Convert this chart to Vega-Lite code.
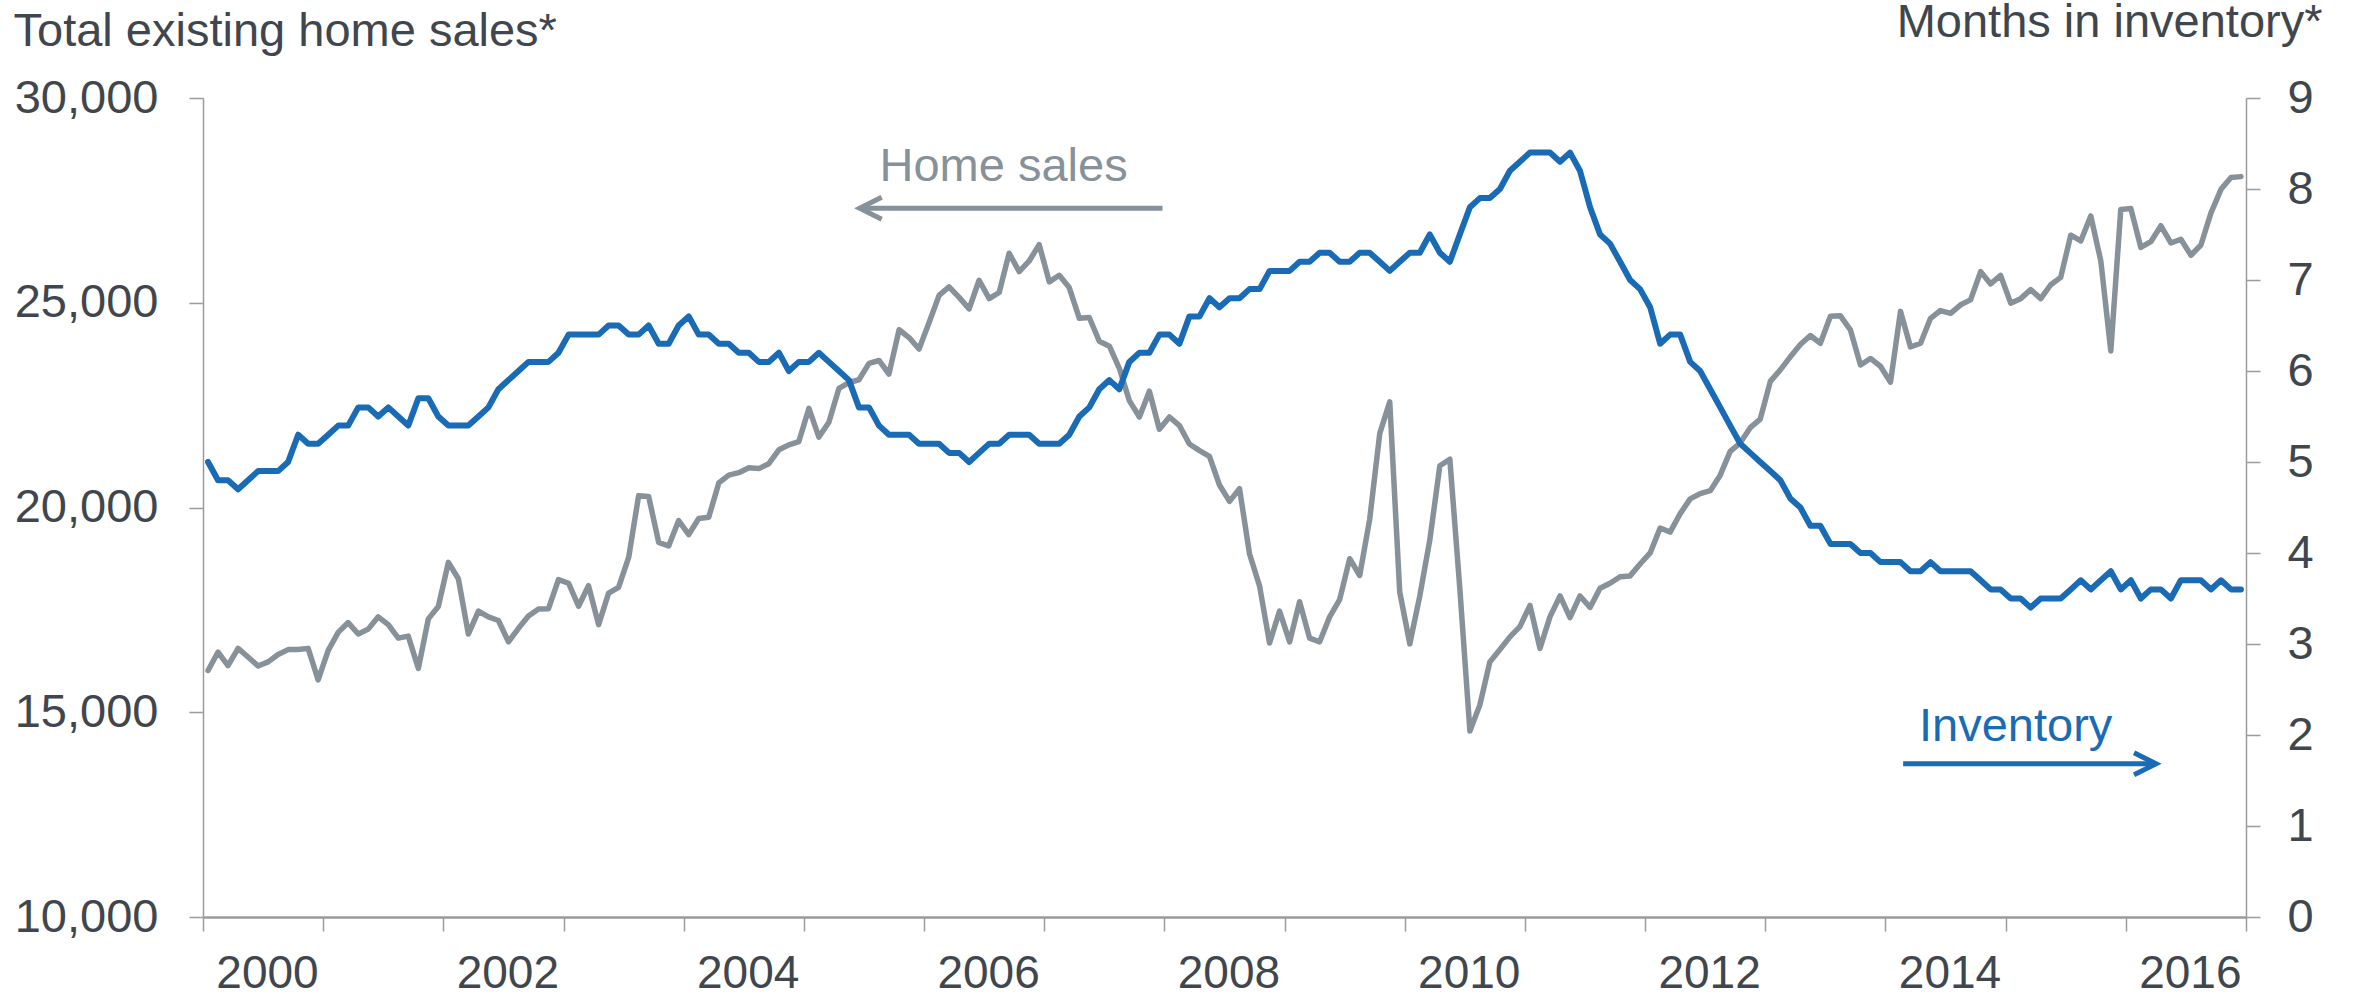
{
  "$schema": "https://vega.github.io/schema/vega-lite/v6.json",
  "width": 2043,
  "height": 819,
  "autosize": {"type": "none"},
  "padding": {"left": 203, "top": 98, "right": 108, "bottom": 79},
  "background": "white",
  "config": {
    "font": "Liberation Sans",
    "view": {"stroke": null},
    "axis": {
      "labelFont": "Liberation Sans",
      "labelFontSize": 47,
      "labelColor": "#3f464d",
      "titleFont": "Liberation Sans",
      "titleFontSize": 47,
      "titleFontWeight": "normal",
      "titleColor": "#3f464d",
      "domainColor": "#9b9b9b",
      "tickColor": "#9b9b9b",
      "grid": false,
      "tickSize": 14,
      "tickWidth": 1.5,
      "domainWidth": 1.5
    }
  },
  "datasets": {
    "series": [
      {"t":2000.042,"s":16020,"i":5.0},{"t":2000.125,"s":16470,"i":4.8},{"t":2000.208,"s":16140,"i":4.8},{"t":2000.292,"s":16560,"i":4.7},
      {"t":2000.375,"s":16350,"i":4.8},{"t":2000.458,"s":16130,"i":4.9},{"t":2000.542,"s":16230,"i":4.9},{"t":2000.625,"s":16410,"i":4.9},
      {"t":2000.708,"s":16530,"i":5.0},{"t":2000.792,"s":16530,"i":5.3},{"t":2000.875,"s":16560,"i":5.2},{"t":2000.958,"s":15790,"i":5.2},
      {"t":2001.042,"s":16510,"i":5.3},{"t":2001.125,"s":16950,"i":5.4},{"t":2001.208,"s":17190,"i":5.4},{"t":2001.292,"s":16910,"i":5.6},
      {"t":2001.375,"s":17030,"i":5.6},{"t":2001.458,"s":17330,"i":5.5},{"t":2001.542,"s":17140,"i":5.6},{"t":2001.625,"s":16810,"i":5.5},
      {"t":2001.708,"s":16860,"i":5.4},{"t":2001.792,"s":16070,"i":5.7},{"t":2001.875,"s":17280,"i":5.7},{"t":2001.958,"s":17580,"i":5.5},
      {"t":2002.042,"s":18660,"i":5.4},{"t":2002.125,"s":18260,"i":5.4},{"t":2002.208,"s":16910,"i":5.4},{"t":2002.292,"s":17470,"i":5.5},
      {"t":2002.375,"s":17330,"i":5.6},{"t":2002.458,"s":17240,"i":5.8},{"t":2002.542,"s":16720,"i":5.9},{"t":2002.625,"s":17050,"i":6.0},
      {"t":2002.708,"s":17350,"i":6.1},{"t":2002.792,"s":17520,"i":6.1},{"t":2002.875,"s":17530,"i":6.1},{"t":2002.958,"s":18240,"i":6.2},
      {"t":2003.042,"s":18150,"i":6.4},{"t":2003.125,"s":17590,"i":6.4},{"t":2003.208,"s":18090,"i":6.4},{"t":2003.292,"s":17140,"i":6.4},
      {"t":2003.375,"s":17910,"i":6.5},{"t":2003.458,"s":18050,"i":6.5},{"t":2003.542,"s":18780,"i":6.4},{"t":2003.625,"s":20290,"i":6.4},
      {"t":2003.708,"s":20270,"i":6.5},{"t":2003.792,"s":19150,"i":6.3},{"t":2003.875,"s":19060,"i":6.3},{"t":2003.958,"s":19680,"i":6.5},
      {"t":2004.042,"s":19340,"i":6.6},{"t":2004.125,"s":19730,"i":6.4},{"t":2004.208,"s":19760,"i":6.4},{"t":2004.292,"s":20600,"i":6.3},
      {"t":2004.375,"s":20790,"i":6.3},{"t":2004.458,"s":20850,"i":6.2},{"t":2004.542,"s":20970,"i":6.2},{"t":2004.625,"s":20950,"i":6.1},
      {"t":2004.708,"s":21070,"i":6.1},{"t":2004.792,"s":21410,"i":6.2},{"t":2004.875,"s":21530,"i":6.0},{"t":2004.958,"s":21610,"i":6.1},
      {"t":2005.042,"s":22420,"i":6.1},{"t":2005.125,"s":21720,"i":6.2},{"t":2005.208,"s":22080,"i":6.1},{"t":2005.292,"s":22910,"i":6.0},
      {"t":2005.375,"s":23050,"i":5.9},{"t":2005.458,"s":23120,"i":5.6},{"t":2005.542,"s":23520,"i":5.6},{"t":2005.625,"s":23590,"i":5.4},
      {"t":2005.708,"s":23260,"i":5.3},{"t":2005.792,"s":24340,"i":5.3},{"t":2005.875,"s":24150,"i":5.3},{"t":2005.958,"s":23870,"i":5.2},
      {"t":2006.042,"s":24520,"i":5.2},{"t":2006.125,"s":25180,"i":5.2},{"t":2006.208,"s":25390,"i":5.1},{"t":2006.292,"s":25130,"i":5.1},
      {"t":2006.375,"s":24850,"i":5.0},{"t":2006.458,"s":25550,"i":5.1},{"t":2006.542,"s":25100,"i":5.2},{"t":2006.625,"s":25250,"i":5.2},
      {"t":2006.708,"s":26210,"i":5.3},{"t":2006.792,"s":25760,"i":5.3},{"t":2006.875,"s":26020,"i":5.3},{"t":2006.958,"s":26420,"i":5.2},
      {"t":2007.042,"s":25510,"i":5.2},{"t":2007.125,"s":25670,"i":5.2},{"t":2007.208,"s":25370,"i":5.3},{"t":2007.292,"s":24620,"i":5.5},
      {"t":2007.375,"s":24640,"i":5.6},{"t":2007.458,"s":24060,"i":5.8},{"t":2007.542,"s":23940,"i":5.9},{"t":2007.625,"s":23400,"i":5.8},
      {"t":2007.708,"s":22610,"i":6.1},{"t":2007.792,"s":22210,"i":6.2},{"t":2007.875,"s":22840,"i":6.2},{"t":2007.958,"s":21910,"i":6.4},
      {"t":2008.042,"s":22210,"i":6.4},{"t":2008.125,"s":22000,"i":6.3},{"t":2008.208,"s":21550,"i":6.6},{"t":2008.292,"s":21390,"i":6.6},
      {"t":2008.375,"s":21250,"i":6.8},{"t":2008.458,"s":20550,"i":6.7},{"t":2008.542,"s":20150,"i":6.8},{"t":2008.625,"s":20460,"i":6.8},
      {"t":2008.708,"s":18870,"i":6.9},{"t":2008.792,"s":18080,"i":6.9},{"t":2008.875,"s":16690,"i":7.1},{"t":2008.958,"s":17470,"i":7.1},
      {"t":2009.042,"s":16720,"i":7.1},{"t":2009.125,"s":17700,"i":7.2},{"t":2009.208,"s":16810,"i":7.2},{"t":2009.292,"s":16720,"i":7.3},
      {"t":2009.375,"s":17330,"i":7.3},{"t":2009.458,"s":17750,"i":7.2},{"t":2009.542,"s":18750,"i":7.2},{"t":2009.625,"s":18340,"i":7.3},
      {"t":2009.708,"s":19710,"i":7.3},{"t":2009.792,"s":21810,"i":7.2},{"t":2009.875,"s":22580,"i":7.1},{"t":2009.958,"s":17940,"i":7.2},
      {"t":2010.042,"s":16670,"i":7.3},{"t":2010.125,"s":17840,"i":7.3},{"t":2010.208,"s":19200,"i":7.5},{"t":2010.292,"s":21020,"i":7.3},
      {"t":2010.375,"s":21180,"i":7.2},{"t":2010.458,"s":18030,"i":7.5},{"t":2010.542,"s":14540,"i":7.8},{"t":2010.625,"s":15180,"i":7.9},
      {"t":2010.708,"s":16230,"i":7.9},{"t":2010.792,"s":16530,"i":8.0},{"t":2010.875,"s":16840,"i":8.2},{"t":2010.958,"s":17090,"i":8.3},
      {"t":2011.042,"s":17610,"i":8.4},{"t":2011.125,"s":16560,"i":8.4},{"t":2011.208,"s":17330,"i":8.4},{"t":2011.292,"s":17840,"i":8.3},
      {"t":2011.375,"s":17310,"i":8.4},{"t":2011.458,"s":17840,"i":8.2},{"t":2011.542,"s":17560,"i":7.8},{"t":2011.625,"s":18030,"i":7.5},
      {"t":2011.708,"s":18150,"i":7.4},{"t":2011.792,"s":18310,"i":7.2},{"t":2011.875,"s":18330,"i":7.0},{"t":2011.958,"s":18620,"i":6.9},
      {"t":2012.042,"s":18890,"i":6.7},{"t":2012.125,"s":19500,"i":6.3},{"t":2012.208,"s":19400,"i":6.4},{"t":2012.292,"s":19850,"i":6.4},
      {"t":2012.375,"s":20210,"i":6.1},{"t":2012.458,"s":20340,"i":6.0},{"t":2012.542,"s":20410,"i":5.8},{"t":2012.625,"s":20790,"i":5.6},
      {"t":2012.708,"s":21370,"i":5.4},{"t":2012.792,"s":21580,"i":5.2},{"t":2012.875,"s":21950,"i":5.1},{"t":2012.958,"s":22160,"i":5.0},
      {"t":2013.042,"s":23080,"i":4.9},{"t":2013.125,"s":23360,"i":4.8},{"t":2013.208,"s":23680,"i":4.6},{"t":2013.292,"s":23980,"i":4.5},
      {"t":2013.375,"s":24200,"i":4.3},{"t":2013.458,"s":24010,"i":4.3},{"t":2013.542,"s":24670,"i":4.1},{"t":2013.625,"s":24680,"i":4.1},
      {"t":2013.708,"s":24340,"i":4.1},{"t":2013.792,"s":23480,"i":4.0},{"t":2013.875,"s":23640,"i":4.0},{"t":2013.958,"s":23450,"i":3.9},
      {"t":2014.042,"s":23060,"i":3.9},{"t":2014.125,"s":24790,"i":3.9},{"t":2014.208,"s":23920,"i":3.8},{"t":2014.292,"s":24010,"i":3.8},
      {"t":2014.375,"s":24620,"i":3.9},{"t":2014.458,"s":24810,"i":3.8},{"t":2014.542,"s":24740,"i":3.8},{"t":2014.625,"s":24950,"i":3.8},
      {"t":2014.708,"s":25070,"i":3.8},{"t":2014.792,"s":25760,"i":3.7},{"t":2014.875,"s":25460,"i":3.6},{"t":2014.958,"s":25670,"i":3.6},
      {"t":2015.042,"s":24990,"i":3.5},{"t":2015.125,"s":25100,"i":3.5},{"t":2015.208,"s":25320,"i":3.4},{"t":2015.292,"s":25100,"i":3.5},
      {"t":2015.375,"s":25440,"i":3.5},{"t":2015.458,"s":25620,"i":3.5},{"t":2015.542,"s":26650,"i":3.6},{"t":2015.625,"s":26510,"i":3.7},
      {"t":2015.708,"s":27120,"i":3.6},{"t":2015.792,"s":26020,"i":3.7},{"t":2015.875,"s":23820,"i":3.8},{"t":2015.958,"s":27280,"i":3.6},
      {"t":2016.042,"s":27300,"i":3.7},{"t":2016.125,"s":26350,"i":3.5},{"t":2016.208,"s":26490,"i":3.6},{"t":2016.292,"s":26880,"i":3.6},
      {"t":2016.375,"s":26460,"i":3.5},{"t":2016.458,"s":26550,"i":3.7},{"t":2016.542,"s":26160,"i":3.7},{"t":2016.625,"s":26410,"i":3.7},
      {"t":2016.708,"s":27190,"i":3.6},{"t":2016.792,"s":27770,"i":3.7},{"t":2016.875,"s":28060,"i":3.6},{"t":2016.958,"s":28080,"i":3.6}
    ],
    "labels": [
      {"series": "Home sales", "t": 2006.662, "v": 27970},
      {"series": "Inventory", "t": 2015.083, "v": 14300}
    ],
    "arrows": [
      {"series": "Home sales", "t": 2005.464, "t2": 2007.984, "v": 27310},
      {"series": "Inventory", "t": 2014.147, "t2": 2016.251, "v": 13740}
    ],
    "heads": [
      {"series": "Home sales", "dir": "left", "t": 2005.556, "v": 27310},
      {"series": "Inventory", "dir": "right", "t": 2016.160, "v": 13740}
    ]
  },
  "encoding": {
    "x": {
      "field": "t",
      "type": "quantitative",
      "scale": {"domain": [2000, 2017], "nice": false, "zero": false},
      "axis": {
        "orient": "bottom",
        "values": [2000,2001,2002,2003,2004,2005,2006,2007,2008,2009,2010,2011,2012,2013,2014,2015,2016,2017],
        "labelExpr": "datum.value % 2 == 0 && datum.value < 2017 ? format(datum.value, 'd') : ''",
        "labelOffset": 64,
        "labelPadding": 20,
        "labelFontSize": 46,
        "labelOverlap": false,
        "labelFlush": false,
        "labelBound": false,
        "domainWidth": 2.5,
        "title": null
      }
    }
  },
  "layer": [
    {
      "data": {"name": "series"},
      "mark": {"type": "line", "color": "#87919a", "strokeWidth": 5.5, "strokeJoin": "round", "strokeCap": "round"},
      "encoding": {
        "y": {
          "field": "s",
          "type": "quantitative",
          "scale": {"domain": [10000, 30000], "nice": false, "zero": false},
          "axis": {
            "orient": "left",
            "values": [10000, 15000, 20000, 25000, 30000],
            "labelExpr": "format(datum.value, ',')",
            "labelPadding": 31,
            "title": "Total existing home sales*",
            "titleAngle": 0,
            "titleAlign": "left",
            "titleBaseline": "alphabetic",
            "titleX": -190,
            "titleY": -53
          }
        }
      }
    },
    {
      "data": {"name": "series"},
      "mark": {"type": "line", "color": "#1a6bb5", "strokeWidth": 6, "strokeJoin": "round", "strokeCap": "round"},
      "encoding": {
        "y": {
          "field": "i",
          "type": "quantitative",
          "scale": {"domain": [0, 9], "nice": false, "zero": false},
          "axis": {
            "orient": "right",
            "values": [0, 1, 2, 3, 4, 5, 6, 7, 8, 9],
            "labelExpr": "format(datum.value, 'd')",
            "labelPadding": 27,
            "title": "Months in inventory*",
            "titleAngle": 0,
            "titleAlign": "right",
            "titleBaseline": "alphabetic",
            "titleX": 76,
            "titleY": -62
          }
        }
      }
    },
    {
      "data": {"name": "arrows"},
      "mark": {"type": "rule", "strokeWidth": 5, "strokeCap": "butt"},
      "encoding": {
        "x2": {"field": "t2"},
        "y": {"field": "v", "type": "quantitative", "scale": {"domain": [10000, 30000], "nice": false, "zero": false}, "axis": null},
        "color": {"field": "series", "type": "nominal", "scale": {"domain": ["Home sales", "Inventory"], "range": ["#87919a", "#1a6bb5"]}, "legend": null}
      }
    },
    {
      "data": {"name": "heads"},
      "mark": {"type": "point", "filled": false, "strokeWidth": 5, "size": 484, "opacity": 1, "strokeJoin": "miter"},
      "encoding": {
        "y": {"field": "v", "type": "quantitative", "scale": {"domain": [10000, 30000], "nice": false, "zero": false}, "axis": null},
        "shape": {"field": "dir", "type": "nominal", "scale": {"domain": ["left", "right"], "range": ["M1,-1L-1,0L1,1", "M-1,-1L1,0L-1,1"]}, "legend": null},
        "color": {"field": "series", "type": "nominal", "scale": {"domain": ["Home sales", "Inventory"], "range": ["#87919a", "#1a6bb5"]}, "legend": null}
      }
    },
    {
      "data": {"name": "labels"},
      "mark": {"type": "text", "fontSize": 47, "font": "Liberation Sans", "align": "center", "baseline": "alphabetic"},
      "encoding": {
        "text": {"field": "series"},
        "y": {"field": "v", "type": "quantitative", "scale": {"domain": [10000, 30000], "nice": false, "zero": false}, "axis": null},
        "color": {"field": "series", "type": "nominal", "scale": {"domain": ["Home sales", "Inventory"], "range": ["#87919a", "#1a6bb5"]}, "legend": null}
      }
    }
  ],
  "resolve": {"scale": {"y": "independent"}}
}
